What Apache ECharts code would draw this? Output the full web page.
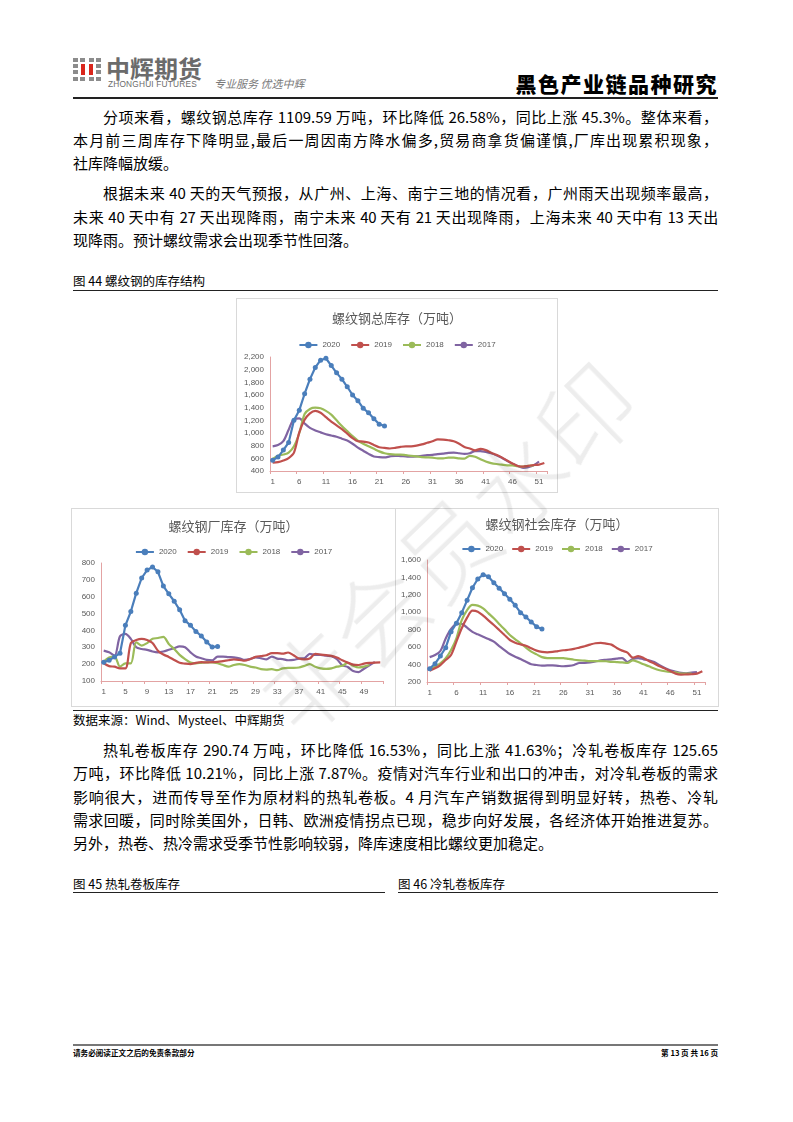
<!DOCTYPE html>
<html><head><meta charset="utf-8">
<script src="https://cdn.jsdelivr.net/npm/echarts@6/dist/echarts.min.js"></script>
<style>
html,body{margin:0;padding:0;background:#fff;}
body{width:793px;height:1122px;position:relative;overflow:hidden;font-family:"Noto Sans CJK SC","Liberation Sans",sans-serif;color:#000;}
.abs{position:absolute;}
.ln{position:absolute;left:73px;width:645px;font-size:15px;line-height:20px;height:20px;white-space:nowrap;text-align:justify;text-align-last:justify;}
.ln.last{text-align-last:left;}
.ln.ind{left:103px;width:615px;}
.cap{position:absolute;font-size:12.5px;line-height:16px;white-space:nowrap;}
.rule{position:absolute;background:#222;}
.box{position:absolute;box-sizing:border-box;border:1px solid #d9d9d9;background:#fff;}
.sq{position:absolute;background:#8c8c8c;}
</style></head>
<body>
<!-- header -->
<div class="abs" style="left:73px;top:58px;width:28px;height:23px;">
  <div class="sq" style="left:0;top:0;width:5px;height:4px"></div>
  <div class="sq" style="left:7px;top:0;width:5px;height:4px"></div>
  <div class="sq" style="left:16px;top:0;width:5px;height:4px"></div>
  <div class="sq" style="left:23px;top:0;width:5px;height:4px"></div>
  <div class="sq" style="left:0;top:6px;width:5px;height:4px"></div>
  <div class="sq" style="left:23px;top:6px;width:5px;height:4px"></div>
  <div class="sq" style="left:0;top:12px;width:5px;height:4px"></div>
  <div class="sq" style="left:23px;top:12px;width:5px;height:4px"></div>
  <div class="sq" style="left:0;top:19px;width:5px;height:4px"></div>
  <div class="sq" style="left:7px;top:19px;width:5px;height:4px"></div>
  <div class="sq" style="left:16px;top:19px;width:5px;height:4px"></div>
  <div class="sq" style="left:23px;top:19px;width:5px;height:4px"></div>
  <div class="abs" style="left:8px;top:6px;width:4px;height:11px;background:#d9261c"></div>
  <div class="abs" style="left:16px;top:6px;width:4px;height:11px;background:#d9261c"></div>
</div>
<div class="abs" style="left:106px;top:54px;font-size:24px;line-height:28px;color:#6b6b6b;font-weight:700;">中辉期货</div>
<div class="abs" style="left:108px;top:79px;font-size:8.3px;line-height:10px;color:#6b6b6b;letter-spacing:0.2px;font-family:'Liberation Sans',sans-serif;">ZHONGHUI FUTURES</div>
<div class="abs" style="left:214px;top:76px;font-size:11px;line-height:14px;color:#7a7a7a;font-style:italic;">专业服务 优选中辉</div>
<div class="abs" style="left:498px;top:70px;width:220px;text-align:right;font-size:21px;line-height:26px;font-weight:900;letter-spacing:1.5px;">黑色产业链品种研究</div>
<div class="rule" style="left:73px;top:97px;width:645px;height:2px;"></div>

<!-- paragraphs -->
<div class="ln ind" style="top:107px;">分项来看，螺纹钢总库存 1109.59 万吨，环比降低 26.58%，同比上涨 45.3%。整体来看，</div>
<div class="ln" style="top:130px;">本月前三周库存下降明显,最后一周因南方降水偏多,贸易商拿货偏谨慎,厂库出现累积现象，</div>
<div class="ln last" style="top:153px;">社库降幅放缓。</div>
<div class="ln ind" style="top:183px;">根据未来 40 天的天气预报，从广州、上海、南宁三地的情况看，广州雨天出现频率最高，</div>
<div class="ln" style="top:207px;letter-spacing:-0.3px;">未来 40 天中有 27 天出现降雨，南宁未来 40 天有 21 天出现降雨，上海未来 40 天中有 13 天出</div>
<div class="ln last" style="top:230px;">现降雨。预计螺纹需求会出现季节性回落。</div>
<div class="cap" style="left:73px;top:273px;">图 44 螺纹钢的库存结构</div>
<div class="rule" style="left:73px;top:290px;width:645px;height:1px;"></div>

<div class="box" id="c1" style="left:236px;top:298px;width:322px;height:195px;"></div>
<div class="box" id="c2" style="left:71px;top:508px;width:325px;height:199px;"></div>
<div class="box" id="c3" style="left:395px;top:508px;width:324px;height:199px;"></div>

<div class="rule" style="left:73px;top:710px;width:645px;height:1px;"></div>
<div class="cap" style="left:73px;top:712px;">数据来源：Wind、Mysteel、中辉期货</div>

<div class="ln ind" style="top:740px;">热轧卷板库存 290.74 万吨，环比降低 16.53%，同比上涨 41.63%；冷轧卷板库存 125.65</div>
<div class="ln" style="top:763px;">万吨，环比降低 10.21%，同比上涨 7.87%。疫情对汽车行业和出口的冲击，对冷轧卷板的需求</div>
<div class="ln" style="top:787px;">影响很大，进而传导至作为原材料的热轧卷板。4 月汽车产销数据得到明显好转，热卷、冷轧</div>
<div class="ln" style="top:810px;">需求回暖，同时除美国外，日韩、欧洲疫情拐点已现，稳步向好发展，各经济体开始推进复苏。</div>
<div class="ln last" style="top:833px;">另外，热卷、热冷需求受季节性影响较弱，降库速度相比螺纹更加稳定。</div>

<div class="cap" style="left:73px;top:876px;">图 45 热轧卷板库存</div>
<div class="cap" style="left:398px;top:876px;">图 46 冷轧卷板库存</div>
<div class="rule" style="left:73px;top:892px;width:312px;height:1px;"></div>
<div class="rule" style="left:398px;top:892px;width:320px;height:1px;"></div>

<!-- footer -->
<div class="abs" style="left:73px;top:1044px;width:645px;height:2px;background:#777;"></div>
<div class="abs" style="left:73px;top:1048px;font-size:7.6px;line-height:10px;font-weight:700;">请务必阅读正文之后的免责条款部分</div>
<div class="abs" style="left:560px;top:1048px;width:158px;text-align:right;font-size:7.6px;line-height:10px;font-weight:700;">第 13 页 共 16 页</div>

<!-- watermark -->
<div class="abs" style="left:185px;top:490px;width:520px;height:110px;font-size:96px;line-height:110px;color:rgba(0,0,0,0.07);transform:rotate(-44deg);transform-origin:50% 50%;white-space:nowrap;pointer-events:none;z-index:10;text-align:center;font-weight:300;">非会员水印</div>

<script>
// ===== data =====
const weeks = Array.from({length:52},(_, i)=>String(i+1));
const seriesNames = ['2020','2019','2018','2017'];

const total2020 = [570,620,730,850,1200,1360,1620,1850,2035,2150,2180,2065,1950,1850,1730,1600,1510,1390,1320,1225,1140,1110];
const total2019 = [530,540,565,605,690,1010,1210,1310,1350,1320,1250,1180,1120,1060,990,920,870,865,850,810,775,765,755,765,780,790,790,800,820,845,870,900,895,885,870,830,780,755,725,750,730,690,655,615,565,520,480,470,480,495,500,525];
const total2018 = [590,640,660,690,790,1000,1300,1380,1400,1390,1350,1290,1200,1110,1030,950,880,830,790,750,710,680,665,660,660,650,640,630,620,615,610,600,600,610,610,600,595,640,625,585,550,525,510,500,490,490,475,470,480,490];
const total2017 = [790,810,870,1050,1220,1230,1150,1080,1040,1010,980,960,940,910,880,830,770,720,670,630,620,615,630,640,635,630,625,630,640,650,655,665,675,685,690,680,670,680,715,715,700,680,650,610,560,515,480,450,460,490,550];

const factory2020 = [211,223,243,265,430,512,621,711,758,776,748,663,617,573,522,458,430,394,367,331,301,305];
const factory2019 = [205,188,185,175,175,325,343,350,343,325,280,257,243,225,208,203,200,208,212,210,212,213,218,223,228,225,220,230,243,248,253,265,265,262,269,253,233,228,233,261,257,253,249,239,223,209,197,195,203,207,209,210];
const factory2018 = [215,240,245,185,205,205,330,310,325,350,355,362,320,290,255,230,210,205,208,210,210,205,195,185,195,200,195,185,180,170,168,170,164,175,178,178,180,190,200,185,175,172,175,185,190,207,190,180,185,195];
const factory2017 = [280,270,250,365,380,350,300,290,285,275,270,275,285,295,305,300,270,245,235,225,222,245,245,242,240,235,225,230,240,235,228,245,233,230,223,225,233,235,261,255,255,250,247,230,193,183,159,153,173,193,213];

const social2020 = [353,410,498,594,778,873,996,1137,1282,1382,1432,1409,1340,1275,1214,1149,1080,996,946,889,835,808];
const social2019 = [330,357,395,452,510,663,816,938,1018,1007,961,908,854,797,739,682,651,632,617,586,560,545,540,545,555,564,570,580,595,610,629,645,648,640,629,591,560,537,480,496,476,440,411,380,354,327,296,285,287,289,296,323];
const social2018 = [341,376,414,472,567,701,911,1026,1084,1076,1045,988,931,866,804,739,690,644,594,548,517,485,475,475,475,475,465,455,449,445,440,440,440,438,432,429,425,418,449,429,404,380,354,335,323,315,312,296,296,296];
const social2017 = [485,510,556,700,808,865,866,823,775,747,720,693,663,613,567,521,490,464,433,403,395,388,390,390,385,381,385,395,418,420,426,435,449,455,460,468,475,429,464,475,460,449,429,392,360,335,318,304,300,308,315];

const titles = ['螺纹钢总库存（万吨）','螺纹钢厂库存（万吨）','螺纹钢社会库存（万吨）'];
const colors = {'2020':'#4a7ebb','2019':'#c0504d','2018':'#9bbb59','2017':'#8064a2'};

// ===== chart builder =====
function build(id, title, data, y, lab, layout){
  const chart = echarts.init(document.getElementById(id), null, {renderer:'canvas'});
  const mk = (name, vals) => {
    const is20 = name === '2020';
    return {
      name, type:'line', data: vals,
      symbol: is20 ? 'circle' : 'none', symbolSize: 5, showSymbol: is20, showAllSymbol: true,
      smooth: is20 ? false : 0.3,
      lineStyle:{width: 2.2, color: colors[name]},
      itemStyle:{color: colors[name]},
      z: is20 ? 5 : 3
    };
  };
  chart.setOption({
    animation:false,
    textStyle:{fontFamily:'"Liberation Sans","Noto Sans CJK SC",sans-serif'},
    title:{text:title, left:'center', top:layout.titleTop,
      textStyle:{fontSize:13, fontWeight:'normal', color:'#595959', fontFamily:'"Noto Sans CJK SC",sans-serif'}},
    legend:{data:seriesNames, top:layout.legendTop, left:'center', itemWidth:18, itemHeight:8, itemGap:layout.legendGap,
      textStyle:{fontSize:8, color:'#595959'}},
    grid:layout.grid,
    xAxis:{type:'category', data:weeks, boundaryGap:true,
      axisLine:{lineStyle:{color:'#e3a3a3', width:1}},
      axisTick:{show:true, interval:lab-1, length:3, lineStyle:{color:'#e3a3a3'}},
      axisLabel:{interval:lab-1, fontSize:8, color:'#595959', margin:7}},
    yAxis:{type:'value', min:y[0], max:y[1], interval:y[2],
      axisLine:{show:true, lineStyle:{color:'#e3a3a3', width:1}},
      axisTick:{show:false}, splitLine:{show:false},
      axisLabel:{fontSize:8, color:'#595959', margin:6,
        formatter:v=>v.toLocaleString('en-US')}},
    series:[mk('2017',data[3]), mk('2018',data[2]), mk('2019',data[1]), mk('2020',data[0])]
  });
}

build('c1', titles[0], [total2020,total2019,total2018,total2017], [400,2200,200], 5,
  {titleTop:8, legendTop:37, legendGap:10, grid:{left:33, right:10, top:58, bottom:21}});
build('c2', titles[1], [factory2020,factory2019,factory2018,factory2017], [100,800,100], 4,
  {titleTop:6, legendTop:34, legendGap:10, grid:{left:29, right:12, top:54, bottom:25}});
build('c3', titles[2], [social2020,social2019,social2018,social2017], [200,1600,200], 5,
  {titleTop:4, legendTop:31, legendGap:8, grid:{left:31, right:13, top:51, bottom:24}});
</script>
</body></html>
